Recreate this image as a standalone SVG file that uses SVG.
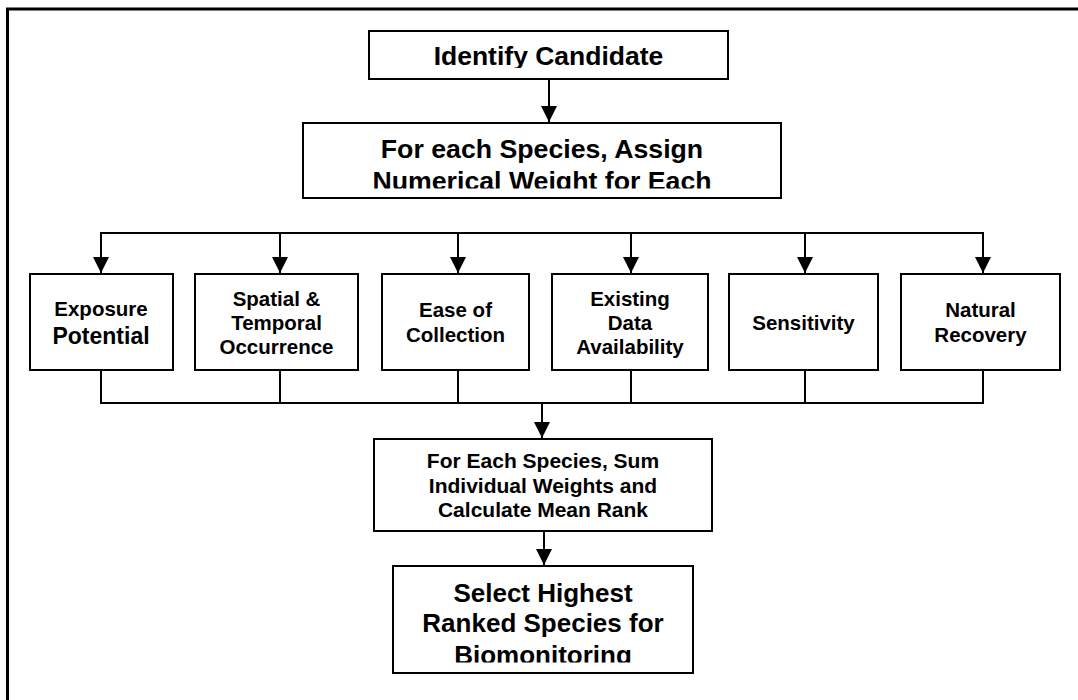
<svg xmlns="http://www.w3.org/2000/svg" width="1078" height="700" viewBox="0 0 1078 700">
<style>
.box{fill:#fff;stroke:#000;stroke-width:2}
.t{font-family:"Liberation Sans",Arial,sans-serif;font-weight:bold;fill:#000;text-anchor:middle}
.c{fill:none;stroke:#000;stroke-width:2}
.frame{fill:none;stroke:#000;stroke-width:3}
</style>
<defs>
<marker id="ah" markerUnits="userSpaceOnUse" markerWidth="16" markerHeight="16" viewBox="0 0 16 16" refX="16" refY="8" orient="auto">
<path d="M0,0 L16,8 L0,16 Z" fill="#000"/>
</marker>
<clipPath id="cp1"><rect x="369" y="31" width="359" height="37"/></clipPath>
<clipPath id="cp2"><rect x="303" y="123" width="478" height="65.5"/></clipPath>
<clipPath id="cp9"><rect x="393" y="566" width="300" height="96.5"/></clipPath>
</defs>
<rect width="1078" height="700" fill="#fff"/>
<path class="frame" d="M7.5,700 V9 H1078"/>
<g id="connectors">
<line class="c" x1="549" y1="79" x2="549" y2="122" marker-end="url(#ah)"/>
<line class="c" x1="100" y1="233" x2="984" y2="233"/>
<line class="c" x1="101" y1="233" x2="101" y2="273" marker-end="url(#ah)"/>
<line class="c" x1="280" y1="233" x2="280" y2="273" marker-end="url(#ah)"/>
<line class="c" x1="458" y1="233" x2="458" y2="273" marker-end="url(#ah)"/>
<line class="c" x1="631" y1="233" x2="631" y2="273" marker-end="url(#ah)"/>
<line class="c" x1="805" y1="233" x2="805" y2="273" marker-end="url(#ah)"/>
<line class="c" x1="983" y1="233" x2="983" y2="273" marker-end="url(#ah)"/>
<path class="c" d="M101,370 V403 H983 V370 M280,370 V403 M458,370 V403 M631,370 V403 M805,370 V403"/>
<line class="c" x1="542" y1="403" x2="542" y2="438" marker-end="url(#ah)"/>
<line class="c" x1="544" y1="531" x2="544" y2="565" marker-end="url(#ah)"/>
</g>
<g id="n1">
<rect class="box" x="369" y="31" width="359" height="48"/>
<text class="t" x="548.5" y="65" font-size="26.5" clip-path="url(#cp1)">Identify Candidate</text>
</g>
<g id="n2">
<rect class="box" x="303" y="123" width="478" height="75"/>
<g clip-path="url(#cp2)">
<text class="t" x="542" y="158" font-size="26.7">For each Species, Assign</text>
<text class="t" x="542" y="190" font-size="26.7">Numerical Weight for Each</text>
</g>
</g>
<g id="n3">
<rect class="box" x="30" y="274" width="143" height="96"/>
<text class="t" x="101" y="316" font-size="20.5">Exposure</text>
<text class="t" x="101" y="344" font-size="23">Potential</text>
</g>
<g id="n4">
<rect class="box" x="195" y="274" width="163" height="96"/>
<text class="t" x="276.5" y="306" font-size="20.5">Spatial &amp;</text>
<text class="t" x="276.5" y="330" font-size="20.5">Temporal</text>
<text class="t" x="276.5" y="354" font-size="20.5">Occurrence</text>
</g>
<g id="n5">
<rect class="box" x="382" y="274" width="147" height="96"/>
<text class="t" x="455.5" y="317" font-size="20.5">Ease of</text>
<text class="t" x="455.5" y="342" font-size="20.5">Collection</text>
</g>
<g id="n6">
<rect class="box" x="552" y="274" width="156" height="96"/>
<text class="t" x="630" y="306" font-size="20.5">Existing</text>
<text class="t" x="630" y="330" font-size="20.5">Data</text>
<text class="t" x="630" y="354" font-size="20.5">Availability</text>
</g>
<g id="n7">
<rect class="box" x="729" y="274" width="149" height="96"/>
<text class="t" x="803.5" y="330" font-size="20.5">Sensitivity</text>
</g>
<g id="n8">
<rect class="box" x="901" y="274" width="159" height="96"/>
<text class="t" x="980.5" y="317" font-size="20.5">Natural</text>
<text class="t" x="980.5" y="342" font-size="20.5">Recovery</text>
</g>
<g id="n9">
<rect class="box" x="374" y="439" width="338" height="92"/>
<text class="t" x="543" y="468" font-size="21">For Each Species, Sum</text>
<text class="t" x="543" y="493" font-size="21">Individual Weights and</text>
<text class="t" x="543" y="517" font-size="21">Calculate Mean Rank</text>
</g>
<g id="n10">
<rect class="box" x="393" y="566" width="300" height="107"/>
<g clip-path="url(#cp9)">
<text class="t" x="543" y="602" font-size="26">Select Highest</text>
<text class="t" x="543" y="632" font-size="26">Ranked Species for</text>
<text class="t" x="543" y="664" font-size="26">Biomonitoring</text>
</g>
</g>
</svg>
